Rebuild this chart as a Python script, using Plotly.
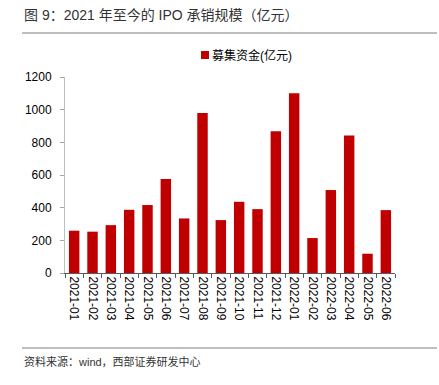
import plotly.graph_objects as go

categories = ["2021-01", "2021-02", "2021-03", "2021-04", "2021-05", "2021-06",
              "2021-07", "2021-08", "2021-09", "2021-10", "2021-11", "2021-12",
              "2022-01", "2022-02", "2022-03", "2022-04", "2022-05", "2022-06"]
values = [259, 253, 293, 387, 416, 575, 334, 979, 324, 436, 391, 868,
          1101, 214, 508, 842, 118, 385]
y_ticks = [0, 200, 400, 600, 800, 1000, 1200]
series_name = "募集资金(亿元)"
title_text = "图 9：2021 年至今的 IPO 承销规模（亿元）"
source_text = "资料来源：wind，西部证券研发中心"

FONT = "Liberation Sans, Arial, Noto Sans CJK SC, sans-serif"
RED = "#C00000"

fig = go.Figure()
fig.add_trace(go.Bar(x=categories, y=values, name=series_name, showlegend=False,
                     marker=dict(color=RED, line=dict(width=0))))

L, R, T, B = 65, 395, 77, 273
W, H = 439, 385

def px(x):
    return (x - L) / (R - L)

def py(y):
    return (B - y) / (B - T)

fig.update_layout(
    width=W, height=H,
    margin=dict(l=L, r=W - R, t=T, b=H - B, autoexpand=False),
    paper_bgcolor="white", plot_bgcolor="white",
    font=dict(family=FONT, size=12, color="#000000"),
    bargap=0.43,
    showlegend=False,
    xaxis=dict(type="category", tickangle=90, tickson="boundaries",
               ticks="outside", ticklen=4, tickcolor="#595959",
               showline=True, linecolor="#595959", linewidth=1,
               showgrid=False, tickfont=dict(size=12, color="#000000"),
               fixedrange=True, automargin=False),
    yaxis=dict(range=[0, 1200], tickvals=y_ticks, ticks="outside", ticklen=4,
               tickcolor="#a6a6a6", showline=True, linecolor="#bfbfbf", linewidth=1,
               showgrid=False, zeroline=False, tickfont=dict(size=12, color="#000000"),
               ticklabelstandoff=6, automargin=False),
    shapes=[
        dict(type="line", xref="paper", yref="paper", x0=px(22), x1=px(437),
             y0=py(33), y1=py(33), line=dict(color="#7f7f7f", width=1.2)),
        dict(type="line", xref="paper", yref="paper", x0=px(22), x1=px(437),
             y0=py(348), y1=py(348), line=dict(color="#7f7f7f", width=1.2)),
        dict(type="rect", xref="paper", yref="paper", x0=px(201), x1=px(209),
             y0=py(59), y1=py(51), line=dict(width=0), fillcolor=RED),
    ],
    annotations=[
        dict(text=title_text, xref="paper", yref="paper", x=px(22), y=py(15),
             xanchor="left", yanchor="middle", showarrow=False,
             font=dict(size=14, color="#333333", family=FONT)),
        dict(text=source_text, xref="paper", yref="paper", x=px(22), y=py(361),
             xanchor="left", yanchor="middle", showarrow=False,
             font=dict(size=11, color="#333333", family=FONT)),
        dict(text=series_name, xref="paper", yref="paper", x=px(210), y=py(55),
             xanchor="left", yanchor="middle", showarrow=False,
             font=dict(size=12, color="#000000", family=FONT)),
    ],
)

fig.write_html("out.html", config={"displayModeBar": False},
               post_script="document.body.style.margin='0';document.body.style.overflow='hidden';")
